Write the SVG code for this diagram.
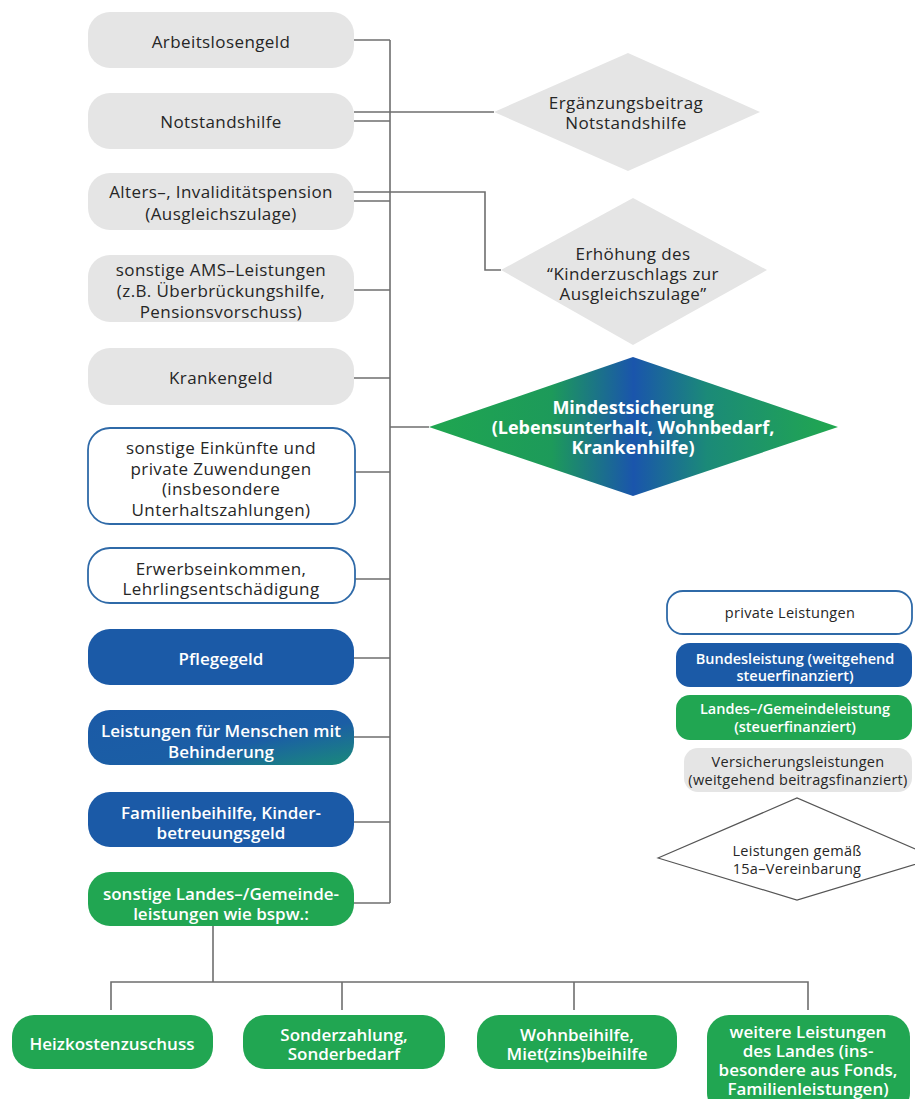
<svg xmlns="http://www.w3.org/2000/svg" width="915" height="1099" viewBox="0 0 915 1099">
<defs>
<style>
.t{font-family:"Open Sans","Liberation Sans",sans-serif;font-size:17px;letter-spacing:0.4px;fill:#262626;text-anchor:middle;dominant-baseline:central}
.w{font-family:"Open Sans","Liberation Sans",sans-serif;font-size:17px;fill:#fff;font-weight:600;text-anchor:middle;dominant-baseline:central}
.m{font-size:18px;font-weight:700}
.s{font-size:14.5px;letter-spacing:0.3px}
.sw{font-size:14.5px}
.gray{fill:#e5e5e5}
.priv{fill:#fff;stroke:#2f6aa8;stroke-width:1.8}
.blue{fill:#1b5aa7}
.green{fill:#21a652}
.c{fill:none;stroke:#6e6e6e;stroke-width:1.6}
</style>
<linearGradient id="gm" x1="0" y1="0" x2="1" y2="0">
<stop offset="0" stop-color="#1fa650"/>
<stop offset="0.3" stop-color="#1d9a5a"/>
<stop offset="0.5" stop-color="#1a55ac"/>
<stop offset="0.68" stop-color="#1b8a78"/>
<stop offset="1" stop-color="#21a84e"/>
</linearGradient>
<linearGradient id="gb" x1="0" y1="0" x2="1" y2="1">
<stop offset="0" stop-color="#1b5aa7"/>
<stop offset="0.6" stop-color="#1b5ea5"/>
<stop offset="1" stop-color="#1a8a7a"/>
</linearGradient>
</defs>
<rect width="915" height="1099" fill="#fff"/>

<g id="connectors">
<path class="c" d="M390 40 V903"/>
<path class="c" d="M354 40 H390"/>
<path class="c" d="M354 112 H494"/>
<path class="c" d="M354 121 H390"/>
<path class="c" d="M347 192 H485 V270 H501"/>
<path class="c" d="M354 201 H390"/>
<path class="c" d="M354 290 H390"/>
<path class="c" d="M354 378 H390"/>
<path class="c" d="M390 427 H429"/>
<path class="c" d="M355 472 H390"/>
<path class="c" d="M355 579 H390"/>
<path class="c" d="M354 658 H390"/>
<path class="c" d="M354 737 H390"/>
<path class="c" d="M354 822 H390"/>
<path class="c" d="M354 903 H390"/>
<path class="c" d="M213 926 V982"/>
<path class="c" d="M111 1010 V982 H808 V1010"/>
<path class="c" d="M342 982 V1010"/>
<path class="c" d="M574 982 V1010"/>
</g>

<g id="n-arbeitslosengeld"><rect class="gray" x="88" y="12" width="266" height="56" rx="22"/><text class="t" x="221" y="41">Arbeitslosengeld</text></g>
<g id="n-notstandshilfe"><rect class="gray" x="88" y="93" width="266" height="56" rx="22"/><text class="t" x="221" y="121">Notstandshilfe</text></g>
<g id="n-alters"><rect class="gray" x="88" y="173" width="266" height="57" rx="22"/><text class="t" x="221" y="191">Alters–, Invaliditätspension<tspan x="221" dy="22">(Ausgleichszulage)</tspan></text></g>
<g id="n-ams"><rect class="gray" x="88" y="255" width="266" height="67" rx="22"/><text class="t" x="221" y="269">sonstige AMS–Leistungen<tspan x="221" dy="21">(z.B. Überbrückungshilfe,</tspan><tspan x="221" dy="21">Pensionsvorschuss)</tspan></text></g>
<g id="n-krankengeld"><rect class="gray" x="88" y="348" width="266" height="57" rx="22"/><text class="t" x="221" y="377">Krankengeld</text></g>
<g id="n-einkuenfte"><rect class="priv" x="88" y="428" width="267" height="96" rx="22"/><text class="t" x="221" y="447">sonstige Einkünfte und<tspan x="221" dy="20.5">private Zuwendungen</tspan><tspan x="221" dy="20.5">(insbesondere</tspan><tspan x="221" dy="20.5">Unterhaltszahlungen)</tspan></text></g>
<g id="n-erwerb"><rect class="priv" x="88" y="548" width="267" height="55" rx="22"/><text class="t" x="221" y="568">Erwerbseinkommen,<tspan x="221" dy="20">Lehrlingsentschädigung</tspan></text></g>
<g id="n-pflegegeld"><rect class="blue" x="88" y="629" width="266" height="56" rx="22"/><text class="w" x="221" y="658">Pflegegeld</text></g>
<g id="n-behinderung"><rect fill="url(#gb)" x="88" y="710" width="266" height="55" rx="22"/><text class="w" x="221" y="730">Leistungen für Menschen mit<tspan x="221" dy="21">Behinderung</tspan></text></g>
<g id="n-familienbeihilfe"><rect class="blue" x="88" y="792" width="266" height="55" rx="22"/><text class="w" x="221" y="812">Familienbeihilfe, Kinder-<tspan x="221" dy="20">betreuungsgeld</tspan></text></g>
<g id="n-landes"><rect class="green" x="88" y="872" width="266" height="54" rx="22"/><text class="w" x="221" y="893">sonstige Landes–/Gemeinde-<tspan x="221" dy="20">leistungen wie bspw.:</tspan></text></g>

<g id="n-ergaenzung"><polygon class="gray" points="494,112 628,53 760,112 628,171"/><text class="t" x="626" y="102">Ergänzungsbeitrag<tspan x="626" dy="20">Notstandshilfe</tspan></text></g>
<g id="n-erhoehung"><polygon class="gray" points="501,270 633,198 767,270 633,345"/><text class="t" x="633" y="253">Erhöhung des<tspan x="633" dy="20">“Kinderzuschlags zur</tspan><tspan x="633" dy="20">Ausgleichszulage”</tspan></text></g>
<g id="n-mindest"><polygon fill="url(#gm)" points="429,427 633,357 838,427 633,496"/><text class="w m" x="633" y="407">Mindestsicherung<tspan x="633" dy="20">(Lebensunterhalt, Wohnbedarf,</tspan><tspan x="633" dy="20">Krankenhilfe)</tspan></text></g>

<g id="n-heiz"><rect class="green" x="12" y="1015" width="201" height="54" rx="22"/><text class="w" x="112" y="1043">Heizkostenzuschuss</text></g>
<g id="n-sonder"><rect class="green" x="243" y="1015" width="202" height="54" rx="22"/><text class="w" x="344" y="1034">Sonderzahlung,<tspan x="344" dy="19">Sonderbedarf</tspan></text></g>
<g id="n-wohn"><rect class="green" x="477" y="1015" width="200" height="54" rx="22"/><text class="w" x="577" y="1034">Wohnbeihilfe,<tspan x="577" dy="19">Miet(zins)beihilfe</tspan></text></g>
<g id="n-weitere"><rect class="green" x="707" y="1015" width="203" height="100" rx="22"/><text class="w" x="808" y="1031">weitere Leistungen<tspan x="808" dy="19">des Landes (ins-</tspan><tspan x="808" dy="19">besondere aus Fonds,</tspan><tspan x="808" dy="19">Familienleistungen)</tspan></text></g>

<g id="legend">
<g id="l-privat"><rect class="priv" x="667" y="591" width="245" height="43" rx="16"/><text class="t s" x="790" y="612">private Leistungen</text></g>
<g id="l-bund"><rect class="blue" x="676" y="643" width="236" height="44" rx="14"/><text class="w sw" x="795" y="658">Bundesleistung (weitgehend<tspan x="795" dy="17">steuerfinanziert)</tspan></text></g>
<g id="l-land"><rect class="green" x="676" y="695" width="236" height="45" rx="14"/><text class="w sw" x="795" y="708">Landes–/Gemeindeleistung<tspan x="795" dy="18">(steuerfinanziert)</tspan></text></g>
<g id="l-vers"><rect class="gray" x="684" y="748" width="228" height="44" rx="14"/><text class="t s" x="798" y="761">Versicherungsleistungen<tspan x="798" dy="18">(weitgehend beitragsfinanziert)</tspan></text></g>
<g id="l-15a"><polygon fill="#fff" stroke="#555" stroke-width="1.2" points="658,858 797,798 936,858 797,900"/><text class="t s" x="797" y="850">Leistungen gemäß<tspan x="797" dy="18">15a–Vereinbarung</tspan></text></g>
</g>
</svg>
